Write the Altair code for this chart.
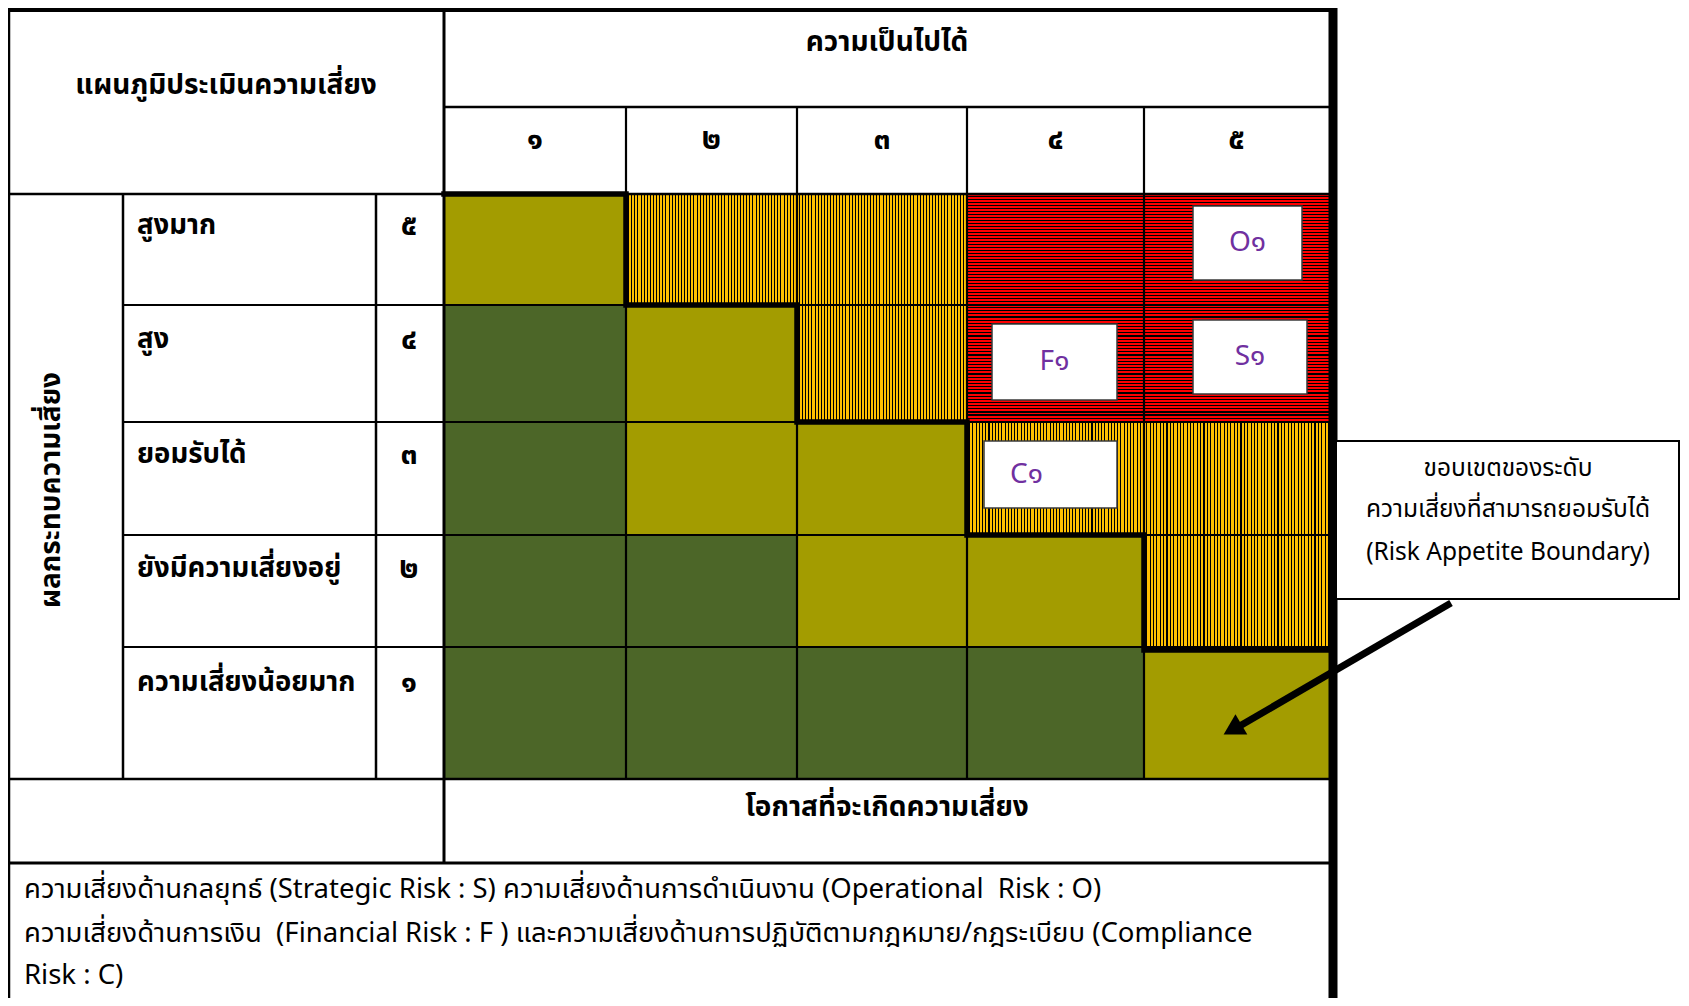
import altair as alt
import pandas as pd

# ---------------- data ----------------
likelihood_labels = ["๑", "๒", "๓", "๔", "๕"]
impact_names = ["สูงมาก", "สูง", "ยอมรับได้", "ยังมีความเสี่ยงอยู่", "ความเสี่ยงน้อยมาก"]  # impact 5 -> 1
impact_digits = ["๕", "๔", "๓", "๒", "๑"]
# risk level grid, rows impact 5 -> 1, columns likelihood 1 -> 5
risk_level = [
    ["medium", "high", "high", "very_high", "very_high"],
    ["low", "medium", "high", "very_high", "very_high"],
    ["low", "medium", "medium", "high", "high"],
    ["low", "low", "medium", "medium", "high"],
    ["low", "low", "low", "low", "medium"],
]
# highest acceptable impact for each likelihood (risk appetite boundary)
appetite_boundary = [5, 4, 3, 2, 1]
risk_codes = ["O๑", "S๑", "F๑", "C๑"]
risk_likelihood = [5, 5, 4, 4]
risk_impact = [5, 4, 4, 3]

title_text = "แผนภูมิประเมินความเสี่ยง"
likelihood_title = "ความเป็นไปได้"
impact_title = "ผลกระทบความเสี่ยง"
occurrence_title = "โอกาสที่จะเกิดความเสี่ยง"
footer_lines = [
    "ความเสี่ยงด้านกลยุทธ์ (Strategic Risk : S) ความเสี่ยงด้านการดำเนินงาน (Operational\u00a0 Risk : O)",
    "ความเสี่ยงด้านการเงิน\u00a0 (Financial Risk : F ) และความเสี่ยงด้านการปฏิบัติตามกฎหมาย/กฎระเบียบ (Compliance",
    "Risk : C)",
]
callout_lines = ["ขอบเขตของระดับ", "ความเสี่ยงที่สามารถยอมรับได้", "(Risk Appetite Boundary)"]

# ---------------- layout ----------------
W, H = 1673, 990
FONT = "Leelawadee UI, Tahoma, Noto Sans Thai, Noto Sans, sans-serif"
col_edges = [444, 626, 797, 967, 1144, 1329]
row_edges = [194, 305, 422, 535, 647, 779]
label_x = 137
digit_x = 409
box_insets = [  # left, right, top, bottom insets inside cell
    (49, 27, 12, 25),
    (49, 22, 15, 28),
    (25, 27, 19, 22),
    (17, 27, 19, 27),
]
code_offsets = [(0, 0), (0, 0), (0, 0), (-24, 0)]

xs = alt.Scale(domain=[8, 8 + W], nice=False, zero=False)
ys = alt.Scale(domain=[8, 8 + H], nice=False, zero=False, reverse=True)


def X(f="x"):
    return alt.X(f"{f}:Q", scale=xs, axis=None)


def Y(f="y"):
    return alt.Y(f"{f}:Q", scale=ys, axis=None)


# heat-map cells
cells = []
for i, row in enumerate(risk_level):
    for j, lvl in enumerate(row):
        cells.append(dict(x=col_edges[j], x2=col_edges[j + 1], y=row_edges[i], y2=row_edges[i + 1], lvl=lvl))
cells = pd.DataFrame(cells)


def stripes(color, n, black_frac, horizontal):
    stops = []
    for k in range(n):
        a = k / n
        b = (k + 1 - black_frac) / n
        c = (k + 1) / n
        stops += [
            alt.GradientStop(color=color, offset=round(a, 5)),
            alt.GradientStop(color=color, offset=round(b, 5)),
            alt.GradientStop(color="#000000", offset=round(b, 5)),
            alt.GradientStop(color="#000000", offset=round(c, 5)),
        ]
    if horizontal:
        return alt.LinearGradient(gradient="linear", stops=stops, x1=0, x2=0, y1=0, y2=1)
    return alt.LinearGradient(gradient="linear", stops=stops, x1=0, x2=1, y1=0, y2=0)


def cell_layer(lvl, fill):
    return alt.Chart(cells).transform_filter(alt.datum.lvl == lvl).mark_rect(fill=fill, stroke=None).encode(
        x=X(), x2="x2", y=Y(), y2="y2")


layers = [
    cell_layer("low", "#4c6628"),
    cell_layer("medium", "#a39c00"),
    cell_layer("high", stripes("#FFC000", 55, 0.32, False)),
    cell_layer("very_high", stripes("#FF0000", 37, 0.38, True)),
]

# grid lines
segs = [
    (9, 1333, 10, 10, 4),
    (444, 1329, 107, 107, 2.5),
    (9, 1329, 194, 194, 2.5),
]
for y in row_edges[1:-1]:
    segs.append((123, 1329, y, y, 2.2))
segs += [
    (9, 1329, 779, 779, 2.5),
    (9, 1329, 863, 863, 3),
    (9, 9, 8, 1006, 2.5),
    (123, 123, 194, 779, 2.5),
    (376, 376, 194, 779, 2.5),
    (444, 444, 8, 863, 3),
]
for x in col_edges[1:-1]:
    segs.append((x, x, 107, 779, 2.2))
segs.append((1333, 1333, 8, 1006, 9))
segs = pd.DataFrame(segs, columns=["x", "x2", "y", "y2", "w"])
layers.append(
    alt.Chart(segs).mark_rule(color="black").encode(
        x=X(), x2="x2", y=Y(), y2="y2", strokeWidth=alt.StrokeWidth("w:Q", scale=None))
)

# risk boxes and codes
boxes = []
for k, code in enumerate(risk_codes):
    j = risk_likelihood[k] - 1
    i = 5 - risk_impact[k]
    l, r, t, b = box_insets[k]
    x0, x1 = col_edges[j] + l, col_edges[j + 1] - r
    y0, y1 = row_edges[i] + t, row_edges[i + 1] - b
    dx, dy = code_offsets[k]
    boxes.append(dict(x=x0, x2=x1, y=y0, y2=y1, cx=(x0 + x1) / 2 + dx, cy=(y0 + y1) / 2 + dy, code=code))
boxes = pd.DataFrame(boxes)
layers.append(alt.Chart(boxes).mark_rect(fill="white", stroke="#3a3a3a", strokeWidth=1.5).encode(
    x=X(), x2="x2", y=Y(), y2="y2"))
layers.append(alt.Chart(boxes).mark_text(font=FONT, fontSize=28, color="#7030A0", baseline="middle").encode(
    x=X("cx"), y=Y("cy"), text="code:N"))

# risk appetite boundary staircase
pts = []
for j, b in enumerate(appetite_boundary):
    yb = row_edges[5 - b] + (3 if b == 1 else 0)
    pts.append(dict(x=col_edges[j], y=yb, o=2 * j))
    pts.append(dict(x=col_edges[j + 1], y=yb, o=2 * j + 1))
pts = pd.DataFrame(pts)
layers.append(alt.Chart(pts).mark_line(color="black", strokeWidth=5.5, strokeJoin="miter", strokeCap="square").encode(
    x=X(), y=Y(), order="o:Q"))


# texts
def text_layer(df, size, weight="normal", align="center", angle=0, color="black"):
    return alt.Chart(df).mark_text(font=FONT, fontSize=size, fontWeight=weight, align=align, angle=angle,
                                   baseline="middle", color=color).encode(x=X(), y=Y(), text="t:N")


headers = pd.DataFrame([
    dict(x=226, y=86, t=title_text),
    dict(x=887, y=43, t=likelihood_title),
    dict(x=887, y=808, t=occurrence_title),
])
layers.append(text_layer(headers, 28, "bold"))
layers.append(text_layer(pd.DataFrame([dict(x=52, y=490, t=impact_title)]), 28, "bold", angle=270))

col_centers = [(col_edges[j] + col_edges[j + 1]) / 2 for j in range(5)]
layers.append(text_layer(pd.DataFrame(dict(x=col_centers, y=[140] * 5, t=likelihood_labels)), 30, "bold"))

row_text_y = [226, 340, 455, 569, 683]
layers.append(text_layer(pd.DataFrame(dict(x=[label_x] * 5, y=row_text_y, t=impact_names)), 27.5, "bold", align="left"))
layers.append(text_layer(pd.DataFrame(dict(x=[digit_x] * 5, y=row_text_y, t=impact_digits)), 30, "bold"))

layers.append(text_layer(pd.DataFrame(dict(x=[24] * 3, y=[890, 934, 976], t=footer_lines)), 27.5, align="left"))

# callout
layers.append(alt.Chart(pd.DataFrame([dict(x=1336, x2=1679, y=441, y2=599)])).mark_rect(
    fill="white", stroke="black", strokeWidth=2).encode(x=X(), x2="x2", y=Y(), y2="y2"))
layers.append(text_layer(pd.DataFrame(dict(x=[1508] * 3, y=[469, 510, 553], t=callout_lines)), 24.5))

# arrow
arrow = pd.DataFrame([dict(x=1451, y=603, o=0), dict(x=1238, y=727, o=1)])
layers.append(alt.Chart(arrow).mark_line(color="black", strokeWidth=7).encode(x=X(), y=Y(), order="o:Q"))
layers.append(alt.Chart(pd.DataFrame([dict(x=1232.5, y=729.5)])).mark_point(
    shape="triangle-up", filled=True, color="black", size=560, angle=240, opacity=1).encode(x=X(), y=Y()))

chart = alt.layer(*layers).properties(
    width=W, height=H, padding=0, autosize=alt.AutoSizeParams(type="none")
).configure_view(stroke=None)

chart.save("out.html", embed_options={"renderer": "svg", "actions": False})
